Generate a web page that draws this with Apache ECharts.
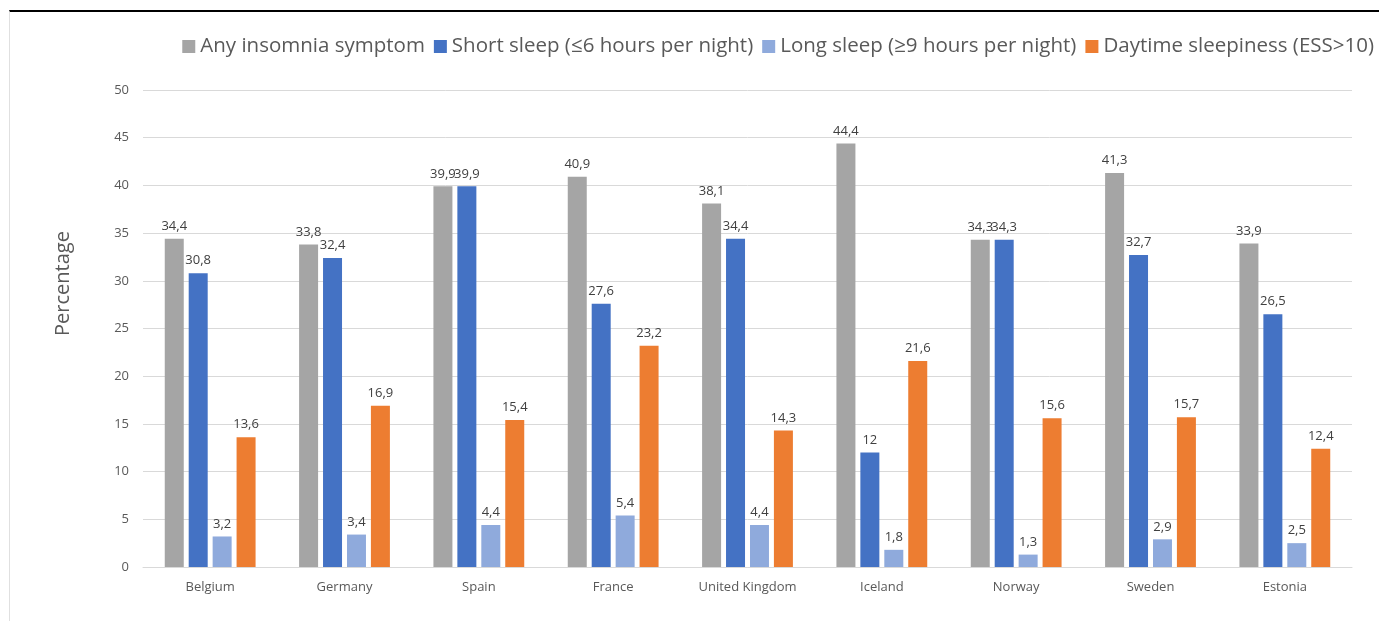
<!DOCTYPE html>
<html>
<head>
<meta charset="utf-8">
<script src="https://cdn.jsdelivr.net/npm/echarts@6/dist/echarts.min.js"></script>
<style>
  html, body { margin: 0; padding: 0; background: #fff; }
  #chart { width: 1379px; height: 621px; }
  .frame { position: absolute; left: 9px; top: 10px; right: 0; bottom: 0;
           border-top: 2px solid #000; border-left: 1px solid #e0e0e0; pointer-events: none; }
</style>
</head>
<body>
<div id="chart"></div>
<div class="frame"></div>
<script>
// 国家
const countries = ['Belgium', 'Germany', 'Spain', 'France', 'United Kingdom', 'Iceland', 'Norway', 'Sweden', 'Estonia']
const insomnia = [34.4, 33.8, 39.9, 40.9, 38.1, 44.4, 34.3, 41.3, 33.9]
const shortSleep = [30.8, 32.4, 39.9, 27.6, 34.4, 12, 34.3, 32.7, 26.5]
const longSleep = [3.2, 3.4, 4.4, 5.4, 4.4, 1.8, 1.3, 2.9, 2.5]
const sleepiness = [13.6, 16.9, 15.4, 23.2, 14.3, 21.6, 15.6, 15.7, 12.4]
const seriesNames = ['Any insomnia symptom', 'Short sleep (≤6 hours per night)', 'Long sleep (≥9 hours per night)', 'Daytime sleepiness (ESS>10)']
const colors = ['#A5A5A5', '#4472C4', '#8FAADC', '#ED7D31']

const font = 'Open Sans'
const myChart = echarts.init(document.querySelector('#chart'))

function makeSeries(name, data, i) {
    return {
        name: name,
        type: 'bar',
        data: data,
        barWidth: 19,
        barGap: '26%',
        itemStyle: { color: colors[i] },
        label: {
            show: true,
            position: 'top',
            distance: 6,
            color: '#404040',
            fontFamily: font,
            fontSize: 13,
            formatter: p => String(p.value).replace('.', ',')
        }
    }
}

const option = {
    animation: false,
    legend: {
        right: 0,
        top: 31,
        itemWidth: 13,
        itemHeight: 13,
        itemGap: 9,
        icon: 'rect',
        textStyle: { color: '#595959', fontFamily: font, fontSize: 20.5 },
        data: seriesNames
    },
    grid: { left: 143, right: 27, top: 90, bottom: 54 },
    xAxis: {
        type: 'category',
        data: countries,
        axisLine: { lineStyle: { color: '#d9d9d9' } },
        axisTick: { show: false },
        axisLabel: { color: '#595959', fontFamily: font, fontSize: 13, margin: 14 }
    },
    yAxis: {
        type: 'value',
        min: 0,
        max: 50,
        interval: 5,
        name: 'Percentage',
        nameLocation: 'middle',
        nameGap: 70,
        nameTextStyle: { color: '#595959', fontFamily: font, fontSize: 20, padding: [0, 0, 0, 90] },
        axisLabel: { color: '#595959', fontFamily: font, fontSize: 13, margin: 14 },
        splitLine: { lineStyle: { color: '#d9d9d9' } }
    },
    series: [
        makeSeries(seriesNames[0], insomnia, 0),
        makeSeries(seriesNames[1], shortSleep, 1),
        makeSeries(seriesNames[2], longSleep, 2),
        makeSeries(seriesNames[3], sleepiness, 3)
    ]
}
myChart.setOption(option)
</script>
</body>
</html>
